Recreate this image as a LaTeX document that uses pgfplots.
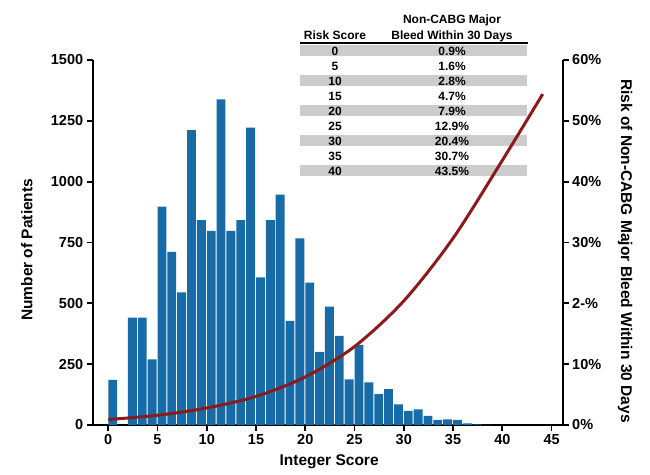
\documentclass[border=0pt]{standalone}
\usepackage{pgfplots}
\pgfplotsset{compat=1.18}
\usepackage{fontspec}
\setmainfont{Liberation Sans}

\definecolor{barblue}{RGB}{23,108,168}
\definecolor{curvered}{RGB}{139,26,26}
\definecolor{bandgray}{RGB}{204,204,204}

% patients per integer score
\pgfplotstableread{
score n
0  185
2  441
3  441
4  270
5  897
6  711
7  545
8  1212
9  842
10 798
11 1338
12 798
13 842
14 1222
15 607
16 842
17 947
18 428
19 767
20 585
21 301
22 486
23 366
24 188
25 329
26 175
27 127
28 147
29 85
30 58
31 64
32 37
33 21
34 23
35 21
36 7
37 3
38 1
}\patients

% risk of bleed (%)
\pgfplotstableread{
score risk
0    0.9
5    1.6
10   2.8
15   4.7
20   7.9
25   12.9
30   20.4
35   30.7
40   43.5
44.1 54.4
}\risk

\pgfplotsset{
  common/.style={
    scale only axis,
    width=470pt, height=365pt,
    at={(92.7pt,49pt)}, anchor=south west,
    xmin=-1.58, xmax=46.13,
    tick align=outside,
    major tick length=6pt,
    every tick/.style={black, line width=1.8pt},
    axis line style={black, line width=1.8pt},
    ticklabel style={font=\fontsize{14.5}{14.5}\selectfont\bfseries},
    label style={font=\fontsize{15.5}{15.5}\selectfont\bfseries},
    /pgf/number format/assume math mode=true,
    /pgf/number format/1000 sep={},
  },
}

\begin{document}
\begin{tikzpicture}
\useasboundingbox (0,0) rectangle (650pt,474pt);

% table in the top of the plot
\foreach \i in {0,2,4,6,8}{
  \fill[bandgray] (300pt,{474pt-(51pt+15pt*\i)-5.5pt}) rectangle (527pt,{474pt-(51pt+15pt*\i)+5.5pt});
}
\draw[line width=1.5pt] (300pt,431pt) -- (528pt,431pt);
\begin{scope}[every node/.style={font=\fontsize{12}{12}\selectfont\bfseries, anchor=base, inner sep=0pt}]
  \node at (335pt,434pt) {Risk Score};
  \node at (452pt,450pt) {Non-CABG Major};
  \node at (452pt,434pt) {Bleed Within 30 Days};
  \foreach \s/\r [count=\i from 0] in {0/0.9,5/1.6,10/2.8,15/4.7,20/7.9,25/12.9,30/20.4,35/30.7,40/43.5}{
    \node at (335pt,{474pt-(55.5pt+15pt*\i)}) {\s};
    \node at (452pt,{474pt-(55.5pt+15pt*\i)}) {\r\%};
  }
\end{scope}

\begin{axis}[
    common,
    axis x line*=bottom,
    axis y line*=left,
    ymin=0, ymax=1500,
    xtick={0,5,...,45},
    ytick={0,250,...,1500},
    xlabel={Integer Score},
    ylabel={Number of Patients},
    xlabel style={at={(axis description cs:0.503,-0.101)}, anchor=center},
    ylabel style={at={(axis description cs:-0.14,0.48)}, anchor=center},
  ]
  \addplot[ybar, bar width=0.9, bar shift=0.45, fill=barblue, draw=none]
    table[x=score, y=n] {\patients};
\end{axis}

\begin{axis}[
    common,
    axis x line=none,
    axis y line*=right,
    ymin=0, ymax=60,
    ytick={0,10,...,60},
    yticklabels={0\%,10\%,2-\%,30\%,40\%,50\%,60\%},
    ylabel={Risk of Non-CABG Major Bleed Within 30 Days},
    ylabel style={at={(axis description cs:1.1326,0.477)}, anchor=center, rotate=180},
  ]
  \addplot[curvered, line width=3pt, smooth] table[x=score, y=risk] {\risk};
\end{axis}
\end{tikzpicture}
\end{document}
